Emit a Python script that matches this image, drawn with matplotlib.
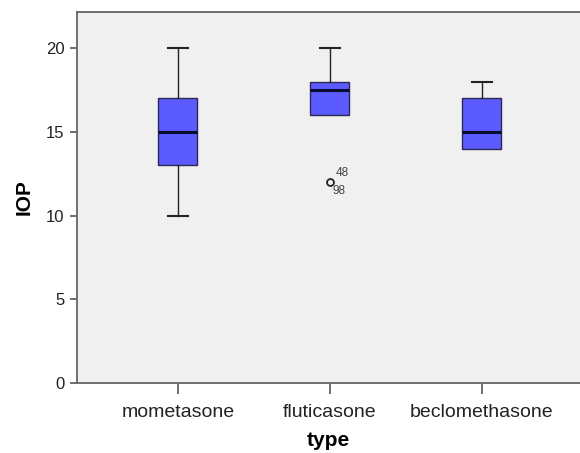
import matplotlib
matplotlib.use("Agg")
import matplotlib.pyplot as plt

plt.rcParams['font.family'] = ['Liberation Sans', 'DejaVu Sans']

# box summaries
groups = ['mometasone', 'fluticasone', 'beclomethasone']
q1 = [13, 16, 14]
med = [15, 17.5, 15]
q3 = [17, 18, 17]
wlo = [10, 16, 14]
whi = [20, 20, 18]
outliers = [[], [12], []]
outlier_ids = ['48', '98']

stats = []
for i in range(len(groups)):
    stats.append({'q1': q1[i], 'med': med[i], 'q3': q3[i],
                  'whislo': wlo[i], 'whishi': whi[i], 'fliers': outliers[i]})

fig = plt.figure(figsize=(5.8, 4.53), dpi=100)
ax = fig.add_axes([77/580, 70/453, 503/580, 371/453])
ax.set_facecolor('#f0f0f0')

parts = ax.bxp(stats, positions=[1, 2, 3], widths=0.256, patch_artist=True,
               boxprops=dict(facecolor='#5b5bff', edgecolor='#2a2a55', linewidth=1.0),
               medianprops=dict(color='#0a0a30', linewidth=2.2),
               whiskerprops=dict(color='#222222', linewidth=1.0),
               capprops=dict(color='#222222', linewidth=1.5),
               capwidths=0.128,
               flierprops=dict(marker='o', markersize=5, markerfacecolor='none',
                               markeredgecolor='#222222', markeredgewidth=1.3))

# no cap where the whisker has zero length
for i in range(len(groups)):
    if wlo[i] == q1[i]:
        parts['caps'][2 * i].set_visible(False)
    if whi[i] == q3[i]:
        parts['caps'][2 * i + 1].set_visible(False)

ax.annotate(outlier_ids[0], (2, outliers[1][0]), xytext=(4, 6.5),
            textcoords='offset points', fontsize=8.5, color='#444444',
            va='center', ha='left')
ax.annotate(outlier_ids[1], (2, outliers[1][0]), xytext=(2, -6.5),
            textcoords='offset points', fontsize=8.5, color='#444444',
            va='center', ha='left')

ax.set_xlim(0.336, 3.645)
ax.set_ylim(0, 22.15)
ax.set_yticks([0, 5, 10, 15, 20])
ax.set_xticks([1, 2, 3])
ax.set_xticklabels(groups, fontsize=14)
ax.tick_params(axis='y', labelsize=12, length=5, width=1.2, color='#555555',
               labelcolor='#222222', pad=4)
ax.tick_params(axis='x', length=8, width=1.2, color='#555555',
               labelcolor='#222222', pad=7)

for s in ['left', 'bottom', 'top']:
    ax.spines[s].set_color('#666666')
    ax.spines[s].set_linewidth(1.3)
ax.spines['right'].set_visible(False)

ax.set_ylabel('IOP', fontsize=15, fontweight='bold', labelpad=9)
ax.set_xlabel('type', fontsize=15, fontweight='bold', labelpad=7)

fig.savefig('out.png', dpi=100)
